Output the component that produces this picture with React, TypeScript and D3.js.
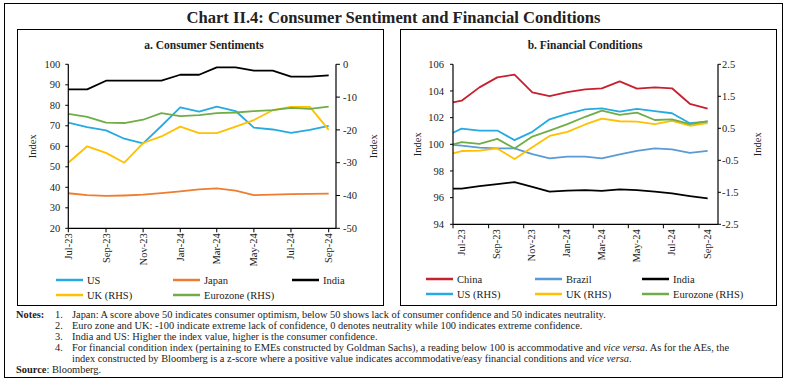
import React from "react";
import * as d3 from "d3";

// ---------- Panel a: Consumer Sentiments (monthly) ----------
const monthsA = ["Jul-23","Aug-23","Sep-23","Oct-23","Nov-23","Dec-23","Jan-24","Feb-24","Mar-24","Apr-24","May-24","Jun-24","Jul-24","Aug-24","Sep-24"];
const usSent = [71.5, 69.3, 67.8, 63.7, 61.4, 69.9, 79.0, 76.9, 79.3, 77.2, 69.1, 68.2, 66.5, 68.0, 70.0];
const japanSent = [37.1, 36.2, 35.8, 36.0, 36.4, 37.2, 38.0, 39.0, 39.5, 38.4, 36.2, 36.4, 36.7, 36.8, 36.9];
const indiaSent = [87.8, 87.8, 92, 92, 92, 92, 94.9, 94.9, 98.5, 98.5, 96.9, 96.9, 94, 94, 94.6];
const ukSent = [-30, -25, -27, -30, -24, -22, -19, -21, -21, -19, -17, -14, -13, -13, -20];
const euroSent = [-15.1, -16.0, -17.8, -17.9, -16.9, -14.9, -15.8, -15.5, -14.9, -14.7, -14.3, -14.0, -13.3, -13.6, -12.9];

// ---------- Panel b: Financial Conditions ----------
const fcDates = ["2023-07-01","2023-07-16","2023-08-16","2023-09-16","2023-10-16","2023-11-16","2023-12-16","2024-01-16","2024-02-16","2024-03-16","2024-04-16","2024-05-16","2024-06-16","2024-07-16","2024-08-16","2024-09-16"];
const chinaFC = [103.15, 103.27, 104.27, 105.02, 105.22, 103.9, 103.62, 103.92, 104.12, 104.2, 104.72, 104.17, 104.27, 104.2, 103.04, 102.67];
const brazilFC = [99.95, 99.9, 99.75, 99.7, 99.7, 99.27, 98.95, 99.07, 99.07, 98.95, 99.25, 99.5, 99.7, 99.62, 99.35, 99.5];
const indiaFC = [96.67, 96.67, 96.87, 97.02, 97.17, 96.8, 96.45, 96.52, 96.57, 96.5, 96.62, 96.57, 96.45, 96.32, 96.12, 95.95];
const usFC = [0.36, 0.49, 0.43, 0.43, 0.13, 0.39, 0.78, 0.95, 1.09, 1.12, 1.02, 1.11, 1.04, 0.97, 0.66, 0.71];
const ukFC = [-0.28, -0.21, -0.2, -0.13, -0.46, -0.09, 0.26, 0.39, 0.62, 0.8, 0.72, 0.71, 0.63, 0.73, 0.58, 0.66];
const euroFC = [0.0, 0.07, 0.01, 0.17, -0.13, 0.24, 0.43, 0.63, 0.86, 1.05, 0.92, 0.99, 0.76, 0.78, 0.63, 0.72];

const xTickLabels = ["Jul-23","Sep-23","Nov-23","Jan-24","Mar-24","May-24","Jul-24","Sep-24"];
const aLeftTicks = [20, 30, 40, 50, 60, 70, 80, 90, 100];
const aRightTicks = [-50, -40, -30, -20, -10, 0];
const bLeftTicks = [94, 96, 98, 100, 102, 104, 106];
const bRightTicks = [-2.5, -1.5, -0.5, 0.5, 1.5, 2.5];

const C = {
  us: "#27AAE1",
  japan: "#ED7D31",
  black: "#000000",
  uk: "#FFC000",
  euro: "#70AD47",
  china: "#C8202F",
  brazil: "#5B9BD5",
};

const FONT = "'Liberation Serif', 'Times New Roman', serif";
const parseM = d3.timeParse("%b-%y");
const parseD = d3.timeParse("%Y-%m-%d");

type Series = { name: string; values: number[]; color: string; right: boolean };

function Panel(props: {
  x0: number; x1: number; y0: number; y1: number;
  dates: Date[]; domainEnd: Date;
  leftDomain: [number, number]; rightDomain: [number, number];
  leftTicks: number[]; rightTicks: number[];
  rightFmt: (v: number) => string;
  series: Series[];
  labelShift: number;
  leftTickLen: number; rightTickLen: number; rightLabelGap: number; leftLabelGap: number;
  idxLeftX: number; idxRightX: number;
}) {
  const p = props;
  const x = d3.scaleTime().domain([parseM("Jul-23") as Date, p.domainEnd]).range([p.x0, p.x1]);
  const yL = d3.scaleLinear().domain(p.leftDomain).range([p.y1, p.y0]);
  const yR = d3.scaleLinear().domain(p.rightDomain).range([p.y1, p.y0]);
  const midY = (p.y0 + p.y1) / 2;
  return (
    <g>
      {p.series.map((s) => {
        const y = s.right ? yR : yL;
        const line = d3.line<number>().x((_, i) => x(p.dates[i])).y((v) => y(v));
        return <path key={s.name} d={line(s.values) || ""} fill="none" stroke={s.color} strokeWidth={1.8} strokeLinejoin="round" />;
      })}
      {/* axes */}
      <line x1={p.x0} x2={p.x0} y1={p.y0} y2={p.y1} stroke="#000" strokeWidth={1.2} />
      <line x1={p.x1} x2={p.x1} y1={p.y0} y2={p.y1} stroke="#000" strokeWidth={1.2} />
      <line x1={p.x0} x2={p.x1} y1={p.y1} y2={p.y1} stroke="#000" strokeWidth={1.2} />
      {p.leftTicks.map((t) => (
        <g key={"l" + t}>
          <line x1={p.x0 - p.leftTickLen} x2={p.x0} y1={yL(t)} y2={yL(t)} stroke="#000" strokeWidth={1} />
          <text x={p.x0 - p.leftLabelGap} y={yL(t)} dy="0.35em" textAnchor="end" fontSize={10.5} fontFamily={FONT} fill="#222">{t}</text>
        </g>
      ))}
      {p.rightTicks.map((t) => (
        <g key={"r" + t}>
          <line x1={p.x1} x2={p.x1 + p.rightTickLen} y1={yR(t)} y2={yR(t)} stroke="#000" strokeWidth={1} />
          <text x={p.x1 + p.rightLabelGap} y={yR(t)} dy="0.35em" textAnchor="start" fontSize={10.5} fontFamily={FONT} fill="#222">{p.rightFmt(t)}</text>
        </g>
      ))}
      {xTickLabels.map((lab) => {
        const tx = x(parseM(lab) as Date);
        return (
          <g key={lab}>
            <line x1={tx} x2={tx} y1={p.y1} y2={p.y1 + 4} stroke="#000" strokeWidth={1} />
            <text transform={`translate(${tx + p.labelShift + 3.5},${p.y1 + 5}) rotate(-90)`} textAnchor="end" fontSize={10.5} fontFamily={FONT} fill="#222">{lab}</text>
          </g>
        );
      })}
      <text transform={`translate(${p.idxLeftX + 3.5},${midY}) rotate(-90)`} textAnchor="middle" fontSize={10.5} fontFamily={FONT} fill="#222">Index</text>
      <text transform={`translate(${p.idxRightX + 3.5},${midY}) rotate(-90)`} textAnchor="middle" fontSize={10.5} fontFamily={FONT} fill="#222">Index</text>
    </g>
  );
}

function Legend(props: { items: { name: string; color: string; x: number; y: number }[] }) {
  return (
    <g>
      {props.items.map((it) => (
        <g key={it.name}>
          <line x1={it.x} x2={it.x + 27} y1={it.y} y2={it.y} stroke={it.color} strokeWidth={2.5} />
          <text x={it.x + 31} y={it.y} dy="0.35em" fontSize={10.5} fontFamily={FONT} fill="#222">{it.name}</text>
        </g>
      ))}
    </g>
  );
}

export default function App() {
  const datesA = monthsA.map((m) => parseM(m) as Date);
  const datesB = fcDates.map((d) => parseD(d) as Date);

  const seriesA: Series[] = [
    { name: "US", values: usSent, color: C.us, right: false },
    { name: "Japan", values: japanSent, color: C.japan, right: false },
    { name: "India", values: indiaSent, color: C.black, right: false },
    { name: "UK (RHS)", values: ukSent, color: C.uk, right: true },
    { name: "Eurozone (RHS)", values: euroSent, color: C.euro, right: true },
  ];
  const seriesB: Series[] = [
    { name: "China", values: chinaFC, color: C.china, right: false },
    { name: "Brazil", values: brazilFC, color: C.brazil, right: false },
    { name: "India", values: indiaFC, color: C.black, right: false },
    { name: "US (RHS)", values: usFC, color: C.us, right: true },
    { name: "UK (RHS)", values: ukFC, color: C.uk, right: true },
    { name: "Eurozone (RHS)", values: euroFC, color: C.euro, right: true },
  ];

  const noteX = 72;
  const NFS = 10.4;
  const notes = [
    { n: "1.", y: 318, content: <>Japan: A score above 50 indicates consumer optimism, below 50 shows lack of consumer confidence and 50 indicates neutrality.</> },
    { n: "2.", y: 329, content: <>Euro zone and UK: -100 indicate extreme lack of confidence, 0 denotes neutrality while 100 indicates extreme confidence.</> },
    { n: "3.", y: 340, content: <>India and US: Higher the index value, higher is the consumer confidence.</> },
    { n: "4.", y: 351, content: <>For financial condition index (pertaining to EMEs constructed by Goldman Sachs), a reading below 100 is accommodative and <tspan fontStyle="italic">vice versa</tspan>. As for the AEs, the</> },
    { n: "", y: 362, content: <>index constructed by Bloomberg is a z-score where a positive value indicates accommodative/easy financial conditions and <tspan fontStyle="italic">vice versa</tspan>.</> },
  ];

  return (
    <svg width={787} height={383} style={{ position: "absolute", left: 0, top: 0, background: "#fff" }}>
      <rect x={0} y={0} width={787} height={383} fill="#fff" />
      <rect x={4.5} y={3.5} width={778} height={374} fill="none" stroke="#000" strokeWidth={1} />
      <text x={393.5} y={23} textAnchor="middle" fontSize={16.6} fontWeight="bold" fontFamily={FONT} fill="#222">Chart II.4: Consumer Sentiment and Financial Conditions</text>

      {/* Panel a */}
      <rect x={17.5} y={29.5} width={366} height={276} fill="none" stroke="#000" strokeWidth={1} />
      <text x={204} y={49} textAnchor="middle" fontSize={11.5} fontWeight="bold" fontFamily={FONT} fill="#222">a. Consumer Sentiments</text>
      <Panel x0={68.3} x1={336} y0={64.3} y1={228.3}
        dates={datesA} domainEnd={parseD("2024-09-13") as Date}
        leftDomain={[20, 100]} rightDomain={[-50, 0]}
        leftTicks={aLeftTicks} rightTicks={aRightTicks}
        rightFmt={(v) => String(v)}
        series={seriesA} labelShift={0}
        leftTickLen={3} rightTickLen={4} rightLabelGap={7} leftLabelGap={8}
        idxLeftX={32} idxRightX={373} />
      <Legend items={[
        { name: "US", color: C.us, x: 56, y: 280 },
        { name: "Japan", color: C.japan, x: 173, y: 280 },
        { name: "India", color: C.black, x: 292, y: 280 },
        { name: "UK (RHS)", color: C.uk, x: 56, y: 295 },
        { name: "Eurozone (RHS)", color: C.euro, x: 173, y: 295 },
      ]} />

      {/* Panel b */}
      <rect x={400.5} y={29.5} width={376} height={276} fill="none" stroke="#000" strokeWidth={1} />
      <text x={585} y={49} textAnchor="middle" fontSize={11.5} fontWeight="bold" fontFamily={FONT} fill="#222">b. Financial Conditions</text>
      <Panel x0={453} x1={718} y0={64.3} y1={224.3}
        dates={datesB} domainEnd={parseD("2024-10-04") as Date}
        leftDomain={[94, 106]} rightDomain={[-2.5, 2.5]}
        leftTicks={bLeftTicks} rightTicks={bRightTicks}
        rightFmt={(v) => String(v)}
        series={seriesB} labelShift={8}
        leftTickLen={3} rightTickLen={3} rightLabelGap={4} leftLabelGap={9}
        idxLeftX={417} idxRightX={757} />
      <Legend items={[
        { name: "China", color: C.china, x: 426, y: 279 },
        { name: "Brazil", color: C.brazil, x: 535, y: 279 },
        { name: "India", color: C.black, x: 642, y: 279 },
        { name: "US (RHS)", color: C.us, x: 426, y: 294 },
        { name: "UK (RHS)", color: C.uk, x: 535, y: 294 },
        { name: "Eurozone (RHS)", color: C.euro, x: 642, y: 294 },
      ]} />

      {/* Notes */}
      <text x={16} y={318} fontSize={NFS} fontWeight="bold" fontFamily={FONT} fill="#222">Notes:</text>
      {notes.map((nt, i) => (
        <g key={i}>
          {nt.n && <text x={55} y={nt.y} fontSize={NFS} fontFamily={FONT} fill="#222">{nt.n}</text>}
          <text x={noteX} y={nt.y} fontSize={NFS} fontFamily={FONT} fill="#222">{nt.content}</text>
        </g>
      ))}
      <text x={16} y={373} fontSize={NFS} fontFamily={FONT} fill="#222"><tspan fontWeight="bold">Source</tspan>: Bloomberg.</text>
    </svg>
  );
}
